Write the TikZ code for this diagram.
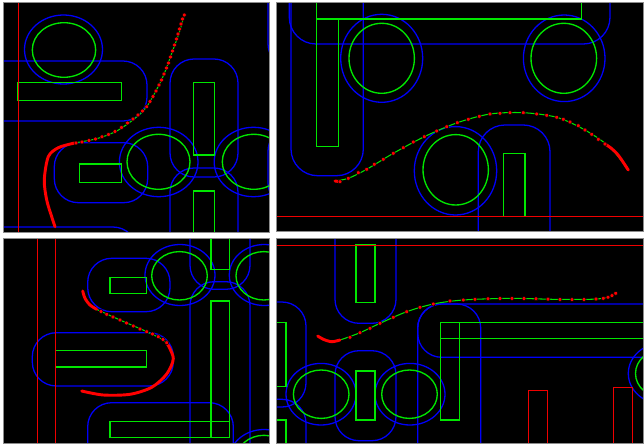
\documentclass[tikz,border=0pt]{standalone}
\definecolor{obsgreen}{RGB}{0,230,0}
\definecolor{infblue}{RGB}{0,0,250}
\definecolor{wallred}{RGB}{240,0,0}
\definecolor{trajred}{RGB}{255,0,0}

\begin{document}
\begin{tikzpicture}[
    x=0.03cm, y=-0.03cm,
    infl/.style={draw=infblue, line width=1.1pt, rounded corners=0.72cm},
    obst/.style={draw=obsgreen, line width=1.15pt},
    wall/.style={draw=wallred, line width=1.45pt},
    frame/.style={draw=black!45, line width=0.6pt},
    trajline/.style={draw=obsgreen, line width=0.9pt},
    trajbead/.style={draw=trajred, line width=2.5pt, line cap=round},
    trajdots/.style={only marks, mark=*, mark size=1.7pt,
                     mark options={fill=trajred, draw=none}}
]
\useasboundingbox[fill=white] (0,0) rectangle (644,447);

% top left
\begin{scope}
\clip (3,2) rectangle (269,232);
\fill[black] (3,2) rectangle (269,232);
\draw[infl] (63.5,49.5) ellipse [x radius=39, y radius=34.5];
\draw[infl] (-30,61) rectangle (147,121);
\draw[infl] (170,59) rectangle (238,177);
\draw[infl] (170,168) rectangle (238,300);
\draw[infl] (158.7,162) ellipse [x radius=39.3, y radius=34.7];
\draw[infl] (253.5,162) ellipse [x radius=39.3, y radius=34.7];
\draw[infl] (54.3,142.7) rectangle (147.7,202.7);
\draw[infl] (-30,227) rectangle (137,290);
\draw[infl] (268,-40) rectangle (340,68);
\draw[infl] (268,127) rectangle (340,207);
\draw[obst] (64,50) ellipse [x radius=31.7, y radius=27.3];
\draw[obst] (18,82.3) rectangle (121.3,100.3);
\draw[obst] (193.3,82.3) rectangle (214.3,155);
\draw[obst] (193.3,191) rectangle (214.3,240);
\draw[obst] (158.5,161.8) ellipse [x radius=31.5, y radius=27.5];
\draw[obst] (253.8,161.8) ellipse [x radius=31.5, y radius=27.5];
\draw[obst] (79.7,164) rectangle (121.3,182.3);
\draw[wall] (18.5,2) -- (18.5,232);
\draw[trajline] plot[smooth] coordinates {(184.3,15) (179,33.3) (171.7,53.3)
  (165.7,70) (159,85) (146.7,106.7) (135,118.3) (116.7,131) (96.7,138.7)
  (73.3,143.3) (58.3,147.7) (48.3,156.7) (44.3,180) (46.7,200) (51.7,216.7)
  (55,226.7)};
\draw[trajbead] plot[smooth] coordinates {(76,143) (73.3,143.3) (58.3,147.7)
  (48.3,156.7) (44.3,180) (46.7,200) (51.7,216.7) (55,226.7)};
\draw plot[trajdots] coordinates {(184.3,15) (182.5,19) (181,24) (179.5,29)
  (178,34) (176.5,39) (174.5,45) (172.5,51) (170.5,57) (168.5,63) (166.5,68)
  (164,74) (161.5,80) (159,85) (156,91) (153,96.5) (150,101.5) (146.7,106.7)
  (142.5,111) (138,115) (133,119) (127.5,123) (121.5,127.5) (115,131.5)
  (108.5,134.5) (102,136.8) (95.5,139) (89,140.5) (82,142) (76,143)};
\end{scope}
\draw[frame] (3,2) rectangle (269,232);

% top right
\begin{scope}
\clip (276,2) rectangle (643.3,231.7);
\fill[black] (276,2) rectangle (643.3,231.7);
\draw[infl, rounded corners=0.8cm] (289.3,-60) rectangle (610,44);
\draw[infl, rounded corners=0.8cm] (291,-40) rectangle (363.3,175.7);
\draw[infl] (381.7,58.3) ellipse [x radius=41, y radius=44];
\draw[infl] (564.2,58.3) ellipse [x radius=40.8, y radius=43.3];
\draw[infl] (455.5,170.8) ellipse [x radius=41.2, y radius=44.2];
\draw[infl, rounded corners=0.8cm] (478.3,125) rectangle (550,290);
\draw[obst] (316.7,-20) rectangle (581.7,19);
\draw[obst] (316.7,19) rectangle (338.7,146.7);
\draw[obst] (381.7,58.3) ellipse [x radius=32.7, y radius=35];
\draw[obst] (563.8,58.3) ellipse [x radius=32.8, y radius=35];
\draw[obst] (455.7,169.8) ellipse [x radius=32.7, y radius=35.2];
\draw[obst] (503.3,153.3) rectangle (525,216.7);
\draw[wall] (276,216.5) -- (644,216.5);
\draw[trajline] plot[smooth] coordinates {(335,181) (348.3,178.3) (366.7,169.3)
  (393.3,153.3) (424.3,136.7) (457.3,122.7) (490,114) (523.3,112.7)
  (556.7,117.3) (585,130) (610,147.3) (628.3,170)};
\draw[trajbead] (335,181) -- (340,181.7);
\draw[trajbead] plot[smooth] coordinates {(605,144) (610,147.3) (616.7,153.3)
  (621.7,160) (625,165) (628.3,170)};
\draw plot[trajdots] coordinates {(340,181.7) (348.3,178.3) (358.3,172.7)
  (366.7,169.3) (374.3,164.3) (383.3,159.3) (393.3,153.3) (403.3,147.7)
  (413.3,142) (424.3,136.7) (436.7,131) (446.7,126.7) (457.3,122.7)
  (468.3,119.3) (479.3,116.3) (490,114) (500,113.3) (510,112.7) (523.3,112.7)
  (536.7,114) (546.7,115.3) (556.7,117.3) (563.3,119.3) (570,122)
  (578.3,125.7) (585,130) (591.7,134.3) (598.3,139.3) (605,144)};
\end{scope}
\draw[frame] (276,2) rectangle (643.3,231.7);

% bottom left
\begin{scope}
\clip (3,238) rectangle (269,443.3);
\fill[black] (3,238) rectangle (269,443.3);
\draw[infl] (180,275) ellipse [x radius=35, y radius=30.5];
\draw[infl] (264.3,275) ellipse [x radius=35, y radius=30.5];
\draw[infl] (87.7,258.3) rectangle (170,311.7);
\draw[infl] (190,200) rectangle (250,289.3);
\draw[infl] (190,281.7) rectangle (250,500);
\draw[infl] (87.7,402.7) rectangle (233.3,500);
\draw[infl] (32.3,332.7) rectangle (173.3,386);
\draw[infl] (264,460) ellipse [x radius=35, y radius=30.5];
\draw[obst] (179.5,275.8) ellipse [x radius=27.8, y radius=24.2];
\draw[obst] (263.8,275.8) ellipse [x radius=27.8, y radius=24.2];
\draw[obst] (110,277.3) rectangle (146.7,293.3);
\draw[obst] (211,220) rectangle (229.3,269.3);
\draw[obst] (211,301) rectangle (229.3,437.3);
\draw[obst] (110,421.7) rectangle (229.3,437.3);
\draw[obst] (55.3,350.7) rectangle (146.7,367);
\draw[obst] (264,459.5) ellipse [x radius=27.8, y radius=24.2];
\draw[wall] (37.5,238) -- (37.5,444);
\draw[wall] (55.5,238) -- (55.5,444);
\draw[trajline] plot[smooth] coordinates {(82.7,291) (85,298.3) (90,305)
  (96.7,309.3) (120,320) (146.7,331.7) (166.7,342.7) (173.3,358.3)
  (166.7,374) (151.7,387.3) (130,394.3) (103.3,395) (81.7,391)};
\draw[trajbead] plot[smooth] coordinates {(82.7,291) (85,298.3) (90,305)
  (96.7,309.3)};
\draw[trajbead] plot[smooth] coordinates {(166.7,342.7) (173.3,358.3)
  (166.7,374) (151.7,387.3) (130,394.3) (103.3,395) (81.7,391)};
\draw plot[trajdots] coordinates {(101,311.5) (106.7,314.3) (113,317)
  (120,320) (126.5,323) (133.3,326) (140,329) (146.7,331.7) (152.5,334)
  (158.3,336.7) (163,339.5) (166.7,342.7)};
\end{scope}
\draw[frame] (3,238) rectangle (269,443.3);

% bottom right
\begin{scope}
\clip (276,238) rectangle (643.3,443.3);
\fill[black] (276,238) rectangle (643.3,443.3);
\draw[infl] (335,200) rectangle (396,323.3);
\draw[infl] (230,302) rectangle (306,407);
\draw[infl] (230,399.3) rectangle (306,500);
\draw[infl] (321,394.2) ellipse [x radius=35, y radius=30.8];
\draw[infl] (335,350.7) rectangle (396,440.7);
\draw[infl] (410,394.2) ellipse [x radius=35, y radius=30.8];
\draw[infl] (417.7,304) rectangle (480.7,500);
\draw[infl] (417.7,304) rectangle (800,357.3);
\draw[infl] (663.3,373.5) ellipse [x radius=35, y radius=30.8];
\draw[obst] (356,245) rectangle (375,302.7);
\draw[obst] (230,322.7) rectangle (286,386.7);
\draw[obst] (230,420) rectangle (286,480);
\draw[obst] (321.2,394.2) ellipse [x radius=27.8, y radius=24.2];
\draw[obst] (356,371) rectangle (375,420);
\draw[obst] (409.5,394.2) ellipse [x radius=27.8, y radius=24.2];
\draw[obst] (440.7,322.7) rectangle (459.3,420);
\draw[obst] (440.7,322.7) rectangle (700,338.7);
\draw[obst] (663.3,373.5) ellipse [x radius=27.8, y radius=24.2];
\draw[wall] (276,245.5) -- (644,245.5);
\draw[wall] (528.5,390.5) rectangle (547.5,480);
\draw[wall] (613.5,387.5) rectangle (632.5,480);
\draw[trajline] plot[smooth] coordinates {(317.7,336) (323.3,339.3)
  (331.7,341.7) (340,340) (360,332.7) (380,323.3) (406.7,311.7) (433.3,304)
  (463.3,300) (510,298.3) (553.3,299.3) (590,299.3) (603.3,298.3)
  (610,296.7) (615.7,293.3)};
\draw[trajbead] plot[smooth] coordinates {(317.7,336) (323.3,339.3)
  (331.7,341.7) (340,340)};
\draw plot[trajdots] coordinates {(350,337.3) (360,332.7) (370,328.3)
  (380,323.3) (393.3,317.3) (406.7,311.7) (420,307.3) (433.3,304) (450,301)
  (463.3,300) (475,299.3) (488,298.8) (500,298.5) (512,298.4) (524,298.5)
  (536,298.8) (548,299.1) (560,299.4) (572,299.6) (584,299.5) (596,299)
  (603.3,298.3) (608,297.2) (612,295.6) (615.7,293.3)};
\end{scope}
\draw[frame] (276,238) rectangle (643.3,443.3);
\end{tikzpicture}
\end{document}
